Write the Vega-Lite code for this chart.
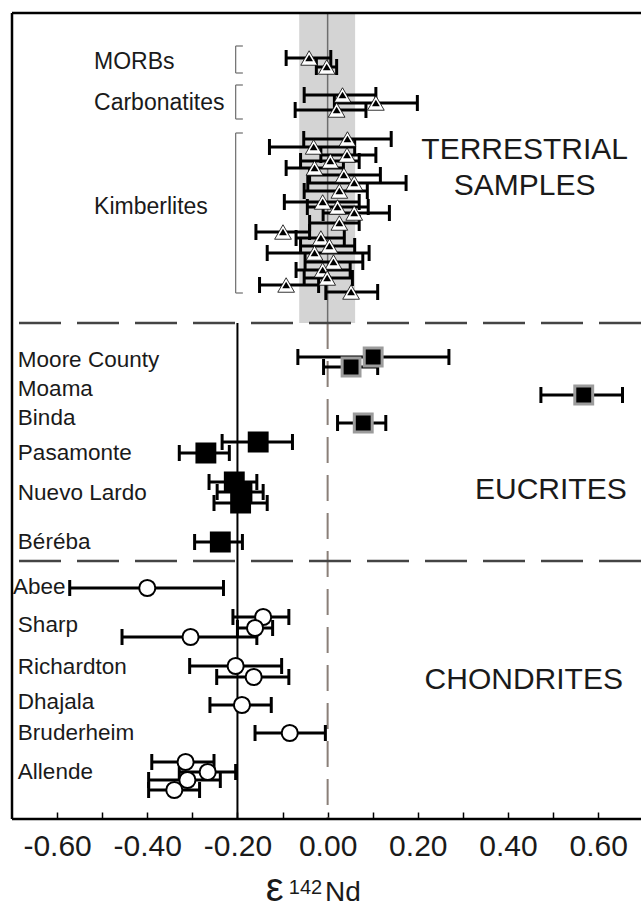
{
  "$schema": "https://vega.github.io/schema/vega-lite/v6.json",
  "width": 629,
  "height": 806,
  "autosize": {"type": "none"},
  "padding": {"left": 12, "top": 13, "right": 0, "bottom": 90},
  "background": "white",
  "config": {"view": {"stroke": null}, "font": "Liberation Sans"},
  "datasets": {
    "band": [{"x": -0.063, "x2": 0.061, "pos": 0, "pos2": 310}],
    "hlines": [{"pos": 310}, {"pos": 548}],
    "frameH": [{"pos": 0}, {"pos": 806}],
    "frameV": [{"x": -0.70}],
    "brackets": [
      {"grp": "MORBs", "x": -0.204, "x2": -0.188, "top": 33, "bottom": 60},
      {"grp": "Carbonatites", "x": -0.204, "x2": -0.188, "top": 72, "bottom": 106},
      {"grp": "Kimberlites", "x": -0.204, "x2": -0.188, "top": 120, "bottom": 280}
    ],
    "pts": [
      {"grp": "T", "name": "MORB", "x": -0.041, "lo": -0.092, "hi": 0.007, "pos": 45, "study": "A"},
      {"grp": "T", "name": "MORB", "x": -0.002, "lo": -0.025, "hi": 0.02, "pos": 54, "study": "A"},
      {"grp": "T", "name": "Carbonatite", "x": 0.033, "lo": -0.052, "hi": 0.107, "pos": 82, "study": "A"},
      {"grp": "T", "name": "Carbonatite", "x": 0.107, "lo": 0.015, "hi": 0.199, "pos": 90, "study": "A"},
      {"grp": "T", "name": "Carbonatite", "x": 0.02, "lo": -0.072, "hi": 0.085, "pos": 97, "study": "A"},
      {"grp": "T", "name": "Kimberlite", "x": 0.044, "lo": -0.053, "hi": 0.141, "pos": 126, "study": "A"},
      {"grp": "T", "name": "Kimberlite", "x": -0.031, "lo": -0.129, "hi": 0.06, "pos": 134, "study": "A"},
      {"grp": "T", "name": "Kimberlite", "x": 0.043, "lo": -0.015, "hi": 0.107, "pos": 142, "study": "A"},
      {"grp": "T", "name": "Kimberlite", "x": 0.006, "lo": -0.06, "hi": 0.07, "pos": 148, "study": "A"},
      {"grp": "T", "name": "Kimberlite", "x": -0.029, "lo": -0.092, "hi": 0.035, "pos": 155, "study": "A"},
      {"grp": "T", "name": "Kimberlite", "x": 0.036, "lo": -0.04, "hi": 0.117, "pos": 162, "study": "A"},
      {"grp": "T", "name": "Kimberlite", "x": 0.059, "lo": -0.044, "hi": 0.174, "pos": 170, "study": "A"},
      {"grp": "T", "name": "Kimberlite", "x": 0.026, "lo": -0.052, "hi": 0.088, "pos": 178, "study": "A"},
      {"grp": "T", "name": "Kimberlite", "x": -0.011, "lo": -0.096, "hi": 0.07, "pos": 189, "study": "A"},
      {"grp": "T", "name": "Kimberlite", "x": 0.022, "lo": -0.045, "hi": 0.09, "pos": 194, "study": "A"},
      {"grp": "T", "name": "Kimberlite", "x": 0.059, "lo": -0.01, "hi": 0.137, "pos": 200, "study": "A"},
      {"grp": "T", "name": "Kimberlite", "x": 0.026, "lo": -0.04, "hi": 0.07, "pos": 210, "study": "A"},
      {"grp": "T", "name": "Kimberlite", "x": -0.099, "lo": -0.159, "hi": -0.04, "pos": 219, "study": "A"},
      {"grp": "T", "name": "Kimberlite", "x": -0.015, "lo": -0.07, "hi": 0.037, "pos": 225, "study": "A"},
      {"grp": "T", "name": "Kimberlite", "x": 0.004, "lo": -0.06, "hi": 0.06, "pos": 233, "study": "A"},
      {"grp": "T", "name": "Kimberlite", "x": -0.029, "lo": -0.134, "hi": 0.092, "pos": 240, "study": "A"},
      {"grp": "T", "name": "Kimberlite", "x": 0.013, "lo": -0.05, "hi": 0.078, "pos": 249, "study": "A"},
      {"grp": "T", "name": "Kimberlite", "x": -0.011, "lo": -0.07, "hi": 0.05, "pos": 257, "study": "A"},
      {"grp": "T", "name": "Kimberlite", "x": -0.001, "lo": -0.052, "hi": 0.055, "pos": 265, "study": "A"},
      {"grp": "T", "name": "Kimberlite", "x": -0.092, "lo": -0.151, "hi": -0.02, "pos": 272, "study": "A"},
      {"grp": "T", "name": "Kimberlite", "x": 0.052, "lo": -0.004, "hi": 0.111, "pos": 279, "study": "A"},
      {"grp": "E", "name": "Moore County", "x": 0.101, "lo": -0.066, "hi": 0.269, "pos": 344, "study": "B"},
      {"grp": "E", "name": "Moore County", "x": 0.052, "lo": -0.009, "hi": 0.111, "pos": 354, "study": "B"},
      {"grp": "E", "name": "Moama", "x": 0.568, "lo": 0.473, "hi": 0.654, "pos": 382, "study": "B"},
      {"grp": "E", "name": "Binda", "x": 0.079, "lo": 0.022, "hi": 0.129, "pos": 410, "study": "B"},
      {"grp": "E", "name": "Pasamonte", "x": -0.154, "lo": -0.234, "hi": -0.078, "pos": 429, "study": "A"},
      {"grp": "E", "name": "Pasamonte", "x": -0.27, "lo": -0.329, "hi": -0.218, "pos": 440, "study": "A"},
      {"grp": "E", "name": "Nuevo Lardo", "x": -0.207, "lo": -0.263, "hi": -0.157, "pos": 469, "study": "A"},
      {"grp": "E", "name": "Nuevo Lardo", "x": -0.19, "lo": -0.245, "hi": -0.143, "pos": 479, "study": "A"},
      {"grp": "E", "name": "Nuevo Lardo", "x": -0.193, "lo": -0.252, "hi": -0.134, "pos": 490, "study": "A"},
      {"grp": "E", "name": "Béréba", "x": -0.238, "lo": -0.295, "hi": -0.189, "pos": 529, "study": "A"},
      {"grp": "C", "name": "Abee", "x": -0.4, "lo": -0.572, "hi": -0.231, "pos": 575, "study": "A"},
      {"grp": "C", "name": "Sharp", "x": -0.143, "lo": -0.21, "hi": -0.086, "pos": 604, "study": "A"},
      {"grp": "C", "name": "Sharp", "x": -0.161, "lo": -0.2, "hi": -0.122, "pos": 615, "study": "A"},
      {"grp": "C", "name": "Sharp", "x": -0.304, "lo": -0.456, "hi": -0.157, "pos": 624, "study": "A"},
      {"grp": "C", "name": "Richardton", "x": -0.204, "lo": -0.306, "hi": -0.102, "pos": 653, "study": "A"},
      {"grp": "C", "name": "Richardton", "x": -0.164, "lo": -0.246, "hi": -0.086, "pos": 664, "study": "A"},
      {"grp": "C", "name": "Dhajala", "x": -0.19, "lo": -0.261, "hi": -0.125, "pos": 692, "study": "A"},
      {"grp": "C", "name": "Bruderheim", "x": -0.084, "lo": -0.161, "hi": -0.005, "pos": 720, "study": "A"},
      {"grp": "C", "name": "Allende", "x": -0.315, "lo": -0.39, "hi": -0.252, "pos": 749, "study": "A"},
      {"grp": "C", "name": "Allende", "x": -0.266, "lo": -0.329, "hi": -0.204, "pos": 759, "study": "A"},
      {"grp": "C", "name": "Allende", "x": -0.311, "lo": -0.397, "hi": -0.238, "pos": 767, "study": "A"},
      {"grp": "C", "name": "Allende", "x": -0.34, "lo": -0.397, "hi": -0.284, "pos": 777, "study": "A"}
    ],
    "labels": [
      {"text": "MORBs", "x": -0.518, "pos": 49, "kind": "group"},
      {"text": "Carbonatites", "x": -0.518, "pos": 90, "kind": "group"},
      {"text": "Kimberlites", "x": -0.518, "pos": 194, "kind": "group"},
      {"text": "TERRESTRIAL", "x": 0.437, "pos": 137, "kind": "section"},
      {"text": "SAMPLES", "x": 0.437, "pos": 173, "kind": "section"},
      {"text": "EUCRITES", "x": 0.495, "pos": 477, "kind": "section"},
      {"text": "CHONDRITES", "x": 0.435, "pos": 667, "kind": "section"},
      {"text": "Moore County", "x": -0.687, "pos": 347, "kind": "sample"},
      {"text": "Moama", "x": -0.687, "pos": 376, "kind": "sample"},
      {"text": "Binda", "x": -0.687, "pos": 405, "kind": "sample"},
      {"text": "Pasamonte", "x": -0.687, "pos": 440, "kind": "sample"},
      {"text": "Nuevo Lardo", "x": -0.687, "pos": 480, "kind": "sample"},
      {"text": "Béréba", "x": -0.687, "pos": 529, "kind": "sample"},
      {"text": "Abee", "x": -0.698, "pos": 574, "kind": "sample"},
      {"text": "Sharp", "x": -0.687, "pos": 612, "kind": "sample"},
      {"text": "Richardton", "x": -0.687, "pos": 654, "kind": "sample"},
      {"text": "Dhajala", "x": -0.687, "pos": 689, "kind": "sample"},
      {"text": "Bruderheim", "x": -0.687, "pos": 720, "kind": "sample"},
      {"text": "Allende", "x": -0.687, "pos": 759, "kind": "sample"}
    ],
    "axtitle": [
      {"text": "ε", "x": -0.137, "pos": 888, "kind": "eps"},
      {"text": "142", "x": -0.086, "pos": 881, "kind": "mass"},
      {"text": "Nd", "x": -0.006, "pos": 888, "kind": "elem"}
    ]
  },
  "layer": [
    {
      "data": {"name": "band"},
      "mark": {"type": "rect", "color": "#d4d4d4"},
      "encoding": {
        "x": {
          "field": "x", "type": "quantitative",
          "scale": {"domain": [-0.70, 0.695], "nice": false, "zero": false},
          "axis": {
            "values": [-0.6, -0.5, -0.4, -0.3, -0.2, -0.1, 0, 0.1, 0.2, 0.3, 0.4, 0.5, 0.6],
            "labelExpr": "abs(round(datum.value*10)) % 2 == 0 ? replace(format(datum.value, '.2f'), '−', '-') : ''",
            "labelFontSize": 30, "labelFont": "Liberation Sans", "labelColor": "#1a1a1a",
            "labelOverlap": false, "labelFlush": false, "labelPadding": 19,
            "tickSize": -7, "tickWidth": 1.5, "tickColor": "black",
            "domain": false, "grid": false,
            "title": null
          }
        },
        "x2": {"field": "x2"},
        "y": {"field": "pos", "type": "quantitative", "scale": {"domain": [0, 806], "reverse": true, "nice": false, "zero": false}, "axis": null},
        "y2": {"field": "pos2"}
      }
    },
    {
      "data": {"values": [{"x": 0, "a": 0, "b": 310}]},
      "mark": {"type": "rule", "color": "#6e6e6e", "strokeWidth": 1.5},
      "encoding": {"x": {"field": "x", "type": "quantitative"}, "y": {"field": "a", "type": "quantitative"}, "y2": {"field": "b"}}
    },
    {
      "data": {"values": [{"x": 0, "a": 310, "b": 806}]},
      "mark": {"type": "rule", "color": "#8a7f78", "strokeWidth": 2, "strokeDash": [26, 12]},
      "encoding": {"x": {"field": "x", "type": "quantitative"}, "y": {"field": "a", "type": "quantitative"}, "y2": {"field": "b"}}
    },
    {
      "data": {"values": [{"x": -0.2, "a": 310, "b": 806}]},
      "mark": {"type": "rule", "color": "black", "strokeWidth": 2},
      "encoding": {"x": {"field": "x", "type": "quantitative"}, "y": {"field": "a", "type": "quantitative"}, "y2": {"field": "b"}}
    },
    {
      "data": {"name": "hlines"},
      "mark": {"type": "rule", "color": "#444", "strokeWidth": 2.5, "strokeDash": [42, 16]},
      "encoding": {"y": {"field": "pos", "type": "quantitative"}}
    },
    {
      "data": {"name": "frameH"},
      "mark": {"type": "rule", "color": "black", "strokeWidth": 2.5},
      "encoding": {"y": {"field": "pos", "type": "quantitative"}}
    },
    {
      "data": {"name": "frameV"},
      "mark": {"type": "rule", "color": "black", "strokeWidth": 2.5},
      "encoding": {"x": {"field": "x", "type": "quantitative"}}
    },
    {
      "data": {"name": "brackets"},
      "mark": {"type": "rule", "color": "#777", "strokeWidth": 1.3},
      "encoding": {"x": {"field": "x", "type": "quantitative"}, "y": {"field": "top", "type": "quantitative"}, "y2": {"field": "bottom"}}
    },
    {
      "data": {"name": "brackets"},
      "mark": {"type": "rule", "color": "#777", "strokeWidth": 1.3},
      "encoding": {"x": {"field": "x", "type": "quantitative"}, "x2": {"field": "x2"}, "y": {"field": "top", "type": "quantitative"}}
    },
    {
      "data": {"name": "brackets"},
      "mark": {"type": "rule", "color": "#777", "strokeWidth": 1.3},
      "encoding": {"x": {"field": "x", "type": "quantitative"}, "x2": {"field": "x2"}, "y": {"field": "bottom", "type": "quantitative"}}
    },
    {
      "data": {"name": "pts"},
      "mark": {"type": "rule", "color": "black", "strokeWidth": 3},
      "encoding": {"x": {"field": "lo", "type": "quantitative"}, "x2": {"field": "hi"}, "y": {"field": "pos", "type": "quantitative"}}
    },
    {
      "data": {"name": "pts"},
      "mark": {"type": "tick", "orient": "vertical", "size": 16, "thickness": 3, "color": "black", "opacity": 1},
      "encoding": {"x": {"field": "lo", "type": "quantitative"}, "y": {"field": "pos", "type": "quantitative"}}
    },
    {
      "data": {"name": "pts"},
      "mark": {"type": "tick", "orient": "vertical", "size": 16, "thickness": 3, "color": "black", "opacity": 1},
      "encoding": {"x": {"field": "hi", "type": "quantitative"}, "y": {"field": "pos", "type": "quantitative"}}
    },
    {
      "data": {"name": "pts"},
      "transform": [{"filter": "datum.grp == 'E'"}],
      "mark": {"type": "point", "shape": "square", "filled": true, "fill": "black", "size": 320, "strokeWidth": 3, "opacity": 1},
      "encoding": {
        "x": {"field": "x", "type": "quantitative"},
        "y": {"field": "pos", "type": "quantitative"},
        "stroke": {"field": "study", "type": "nominal", "scale": {"domain": ["A", "B"], "range": ["black", "#9c9c9c"]}, "legend": null}
      }
    },
    {
      "data": {"name": "pts"},
      "transform": [{"filter": "datum.grp == 'C'"}],
      "mark": {"type": "point", "shape": "circle", "filled": false, "fill": "white", "stroke": "black", "size": 260, "strokeWidth": 2, "opacity": 1},
      "encoding": {"x": {"field": "x", "type": "quantitative"}, "y": {"field": "pos", "type": "quantitative"}}
    },
    {
      "data": {"name": "pts"},
      "transform": [{"filter": "datum.grp == 'T'"}],
      "mark": {"type": "point", "shape": "triangle-up", "filled": false, "fill": "white", "stroke": "black", "size": 280, "strokeWidth": 0.8, "opacity": 1},
      "encoding": {"x": {"field": "x", "type": "quantitative"}, "y": {"field": "pos", "type": "quantitative"}}
    },
    {
      "data": {"name": "pts"},
      "transform": [{"filter": "datum.grp == 'T'"}],
      "mark": {"type": "point", "shape": "triangle-up", "filled": true, "fill": "black", "size": 60, "opacity": 1},
      "encoding": {"x": {"field": "x", "type": "quantitative"}, "y": {"field": "pos", "type": "quantitative"}}
    },
    {
      "data": {"name": "labels"},
      "transform": [{"filter": "datum.kind == 'sample'"}],
      "mark": {"type": "text", "align": "left", "baseline": "middle", "fontSize": 22.5, "font": "Liberation Sans", "color": "#1a1a1a"},
      "encoding": {"x": {"field": "x", "type": "quantitative"}, "y": {"field": "pos", "type": "quantitative"}, "text": {"field": "text"}}
    },
    {
      "data": {"name": "labels"},
      "transform": [{"filter": "datum.kind == 'group'"}],
      "mark": {"type": "text", "align": "left", "baseline": "middle", "fontSize": 23, "font": "Liberation Sans", "color": "#1a1a1a"},
      "encoding": {"x": {"field": "x", "type": "quantitative"}, "y": {"field": "pos", "type": "quantitative"}, "text": {"field": "text"}}
    },
    {
      "data": {"name": "labels"},
      "transform": [{"filter": "datum.kind == 'section'"}],
      "mark": {"type": "text", "align": "center", "baseline": "middle", "fontSize": 30, "font": "Liberation Sans", "color": "#1a1a1a"},
      "encoding": {"x": {"field": "x", "type": "quantitative"}, "y": {"field": "pos", "type": "quantitative"}, "text": {"field": "text"}}
    },
    {
      "data": {"name": "axtitle"},
      "transform": [{"filter": "datum.kind == 'eps'"}],
      "mark": {"type": "text", "align": "left", "baseline": "alphabetic", "fontSize": 40, "font": "Liberation Sans", "color": "#1a1a1a"},
      "encoding": {"x": {"field": "x", "type": "quantitative"}, "y": {"field": "pos", "type": "quantitative"}, "text": {"field": "text"}}
    },
    {
      "data": {"name": "axtitle"},
      "transform": [{"filter": "datum.kind == 'mass'"}],
      "mark": {"type": "text", "align": "left", "baseline": "alphabetic", "fontSize": 20, "font": "Liberation Sans", "color": "#1a1a1a"},
      "encoding": {"x": {"field": "x", "type": "quantitative"}, "y": {"field": "pos", "type": "quantitative"}, "text": {"field": "text"}}
    },
    {
      "data": {"name": "axtitle"},
      "transform": [{"filter": "datum.kind == 'elem'"}],
      "mark": {"type": "text", "align": "left", "baseline": "alphabetic", "fontSize": 28, "font": "Liberation Sans", "color": "#1a1a1a"},
      "encoding": {"x": {"field": "x", "type": "quantitative"}, "y": {"field": "pos", "type": "quantitative"}, "text": {"field": "text"}}
    }
  ]
}
